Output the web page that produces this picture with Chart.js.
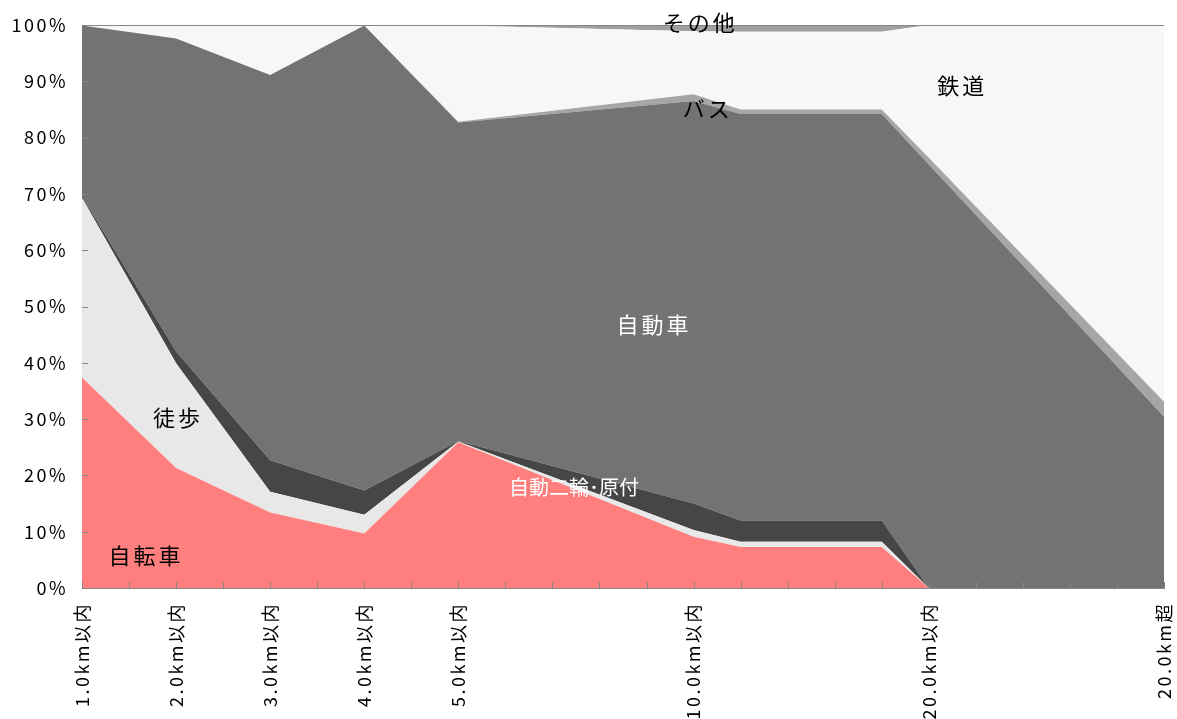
<!DOCTYPE html>
<html>
<head>
<meta charset="utf-8">
<script src="https://cdn.jsdelivr.net/npm/chart.js@4.4.1/dist/chart.umd.min.js"></script>
<style>
  html, body { margin: 0; padding: 0; background: #fff; }
</style>
</head>
<body>
<canvas id="mycanvas" width="1177" height="719"></canvas>
<script>
// distance positions (category index on the axis) where the values are given
var xPos = [0, 2, 4, 6, 8, 13, 14, 17, 18, 23];
var tickLabels = ['1.0km以内', '', '2.0km以内', '', '3.0km以内', '', '4.0km以内', '', '5.0km以内',
  '', '', '', '', '10.0km以内', '', '', '', '', '20.0km以内', '', '', '', '', '20.0km超'];

// shares in % (bottom to top)
var jitensha = [37.4, 21.3, 13.4, 9.7, 25.9, 9.1, 7.3, 7.3, 0, 0];
var toho     = [31.9, 18.6, 3.7, 3.3, 0.1, 1.2, 0.9, 0.9, 0, 0];
var nirin    = [0.3, 2.1, 5.6, 4.3, 0.1, 4.7, 3.8, 3.8, 0, 0];
var jidosha  = [30.3, 55.6, 68.4, 82.6, 56.6, 71.5, 72.2, 72.2, 75.2, 30.4];
var bus      = [0, 0, 0, 0, 0.1, 1.2, 0.8, 0.8, 1.2, 2.7];
var tetsudo  = [0.1, 2.4, 8.9, 0.1, 17.1, 11.2, 13.8, 13.8, 23.6, 66.9];
var sonota   = [0, 0, 0, 0, 0.1, 1.1, 1.2, 1.2, 0, 0];

var yTicks = [0, 10, 20, 30, 40, 50, 60, 70, 80, 90, 100];

function pts(arr) {
  return arr.map(function(v, i) { return { x: xPos[i], y: v }; });
}

function area(label, arr, color, fill) {
  return {
    label: label,
    data: pts(arr),
    backgroundColor: color,
    borderColor: color,
    borderWidth: 0,
    pointRadius: 0,
    pointHoverRadius: 0,
    tension: 0,
    fill: fill
  };
}

// where the series names are written (axis units)
var nameTags = [
  { text: '自転車', x: 1.36, y: 5.7, color: '#000', size: 22, sp: '3px' },
  { text: '徒歩', x: 2.04, y: 30.2, color: '#000', size: 22, sp: '3px' },
  { text: '自動二輪･原付', x: 10.46, y: 17.8, color: '#fff', size: 20, sp: '0px' },
  { text: '自動車', x: 12.16, y: 46.7, color: '#fff', size: 22, sp: '3px' },
  { text: 'バス', x: 13.3, y: 85.2, color: '#000', size: 22, sp: '3px' },
  { text: '鉄道', x: 18.71, y: 89.2, color: '#000', size: 22, sp: '3px' },
  { text: 'その他', x: 13.14, y: 100.5, color: '#000', size: 22, sp: '3px' }
];

var axisColor = '#868686';
var jpFont = '"Noto Sans CJK JP", "Noto Sans", sans-serif';
var tickSpacing = '2.5px';

var spacing = {
  id: 'spacing',
  beforeUpdate: function(chart) { chart.ctx.letterSpacing = tickSpacing; },
  beforeDraw: function(chart) { chart.ctx.letterSpacing = tickSpacing; }
};

var overlay = {
  id: 'overlay',
  afterDatasetsDraw: function(chart) {
    var ctx = chart.ctx;
    var xs = chart.scales.x, ys = chart.scales.y, ca = chart.chartArea;
    ctx.save();
    ctx.strokeStyle = axisColor;
    ctx.lineWidth = 1;
    ctx.beginPath();
    var top = Math.round(ys.getPixelForValue(100)) + 0.5;
    ctx.moveTo(ca.left, top);
    ctx.lineTo(ca.right, top);
    for (var i = 0; i < tickLabels.length; i++) {
      var px = Math.round(xs.getPixelForValue(i)) + 0.5;
      ctx.moveTo(px, ca.bottom);
      ctx.lineTo(px, ca.bottom - 6);
    }
    for (var k = 0; k < yTicks.length; k++) {
      var py = Math.round(ys.getPixelForValue(yTicks[k])) + 0.5;
      ctx.moveTo(ca.left, py);
      ctx.lineTo(ca.left + 6, py);
    }
    ctx.stroke();

    ctx.textAlign = 'center';
    ctx.textBaseline = 'middle';
    nameTags.forEach(function(t) {
      ctx.font = t.size + 'px ' + jpFont;
      ctx.letterSpacing = t.sp;
      ctx.fillStyle = t.color;
      ctx.fillText(t.text, xs.getPixelForValue(t.x), ys.getPixelForValue(t.y));
    });
    ctx.restore();
  }
};

var ctx = document.getElementById('mycanvas');
var chart = new Chart(ctx, {
  type: 'line',
  data: {
    datasets: [
      area('自転車', jitensha, '#FF7F7F', 'origin'),
      area('徒歩', toho, '#E8E8E8', '-1'),
      area('自動二輪・原付', nirin, '#464646', '-1'),
      area('自動車', jidosha, '#737373', '-1'),
      area('バス', bus, '#A6A6A6', '-1'),
      area('鉄道', tetsudo, '#F7F7F7', '-1'),
      area('その他', sonota, '#A0A0A0', '-1')
    ]
  },
  options: {
    responsive: false,
    animation: false,
    layout: { padding: { top: 25, right: 13, left: 0, bottom: 0 } },
    plugins: {
      legend: { display: false },
      tooltip: { enabled: false }
    },
    scales: {
      x: {
        type: 'linear',
        min: 0,
        max: 23,
        grid: { display: false },
        border: { color: axisColor },
        afterBuildTicks: function(scale) {
          scale.ticks = tickLabels.map(function(_, i) { return { value: i }; });
        },
        afterFit: function(scale) {
          scale.height = 131;
          scale.paddingLeft = 0;
          scale.paddingRight = 0;
        },
        ticks: {
          autoSkip: false,
          maxRotation: 90,
          minRotation: 90,
          padding: 6,
          color: '#000',
          font: { size: 18, family: jpFont },
          callback: function(v) { return tickLabels[v] || ''; }
        }
      },
      y: {
        stacked: true,
        min: 0,
        max: 100,
        grid: { display: false },
        border: { color: axisColor },
        afterBuildTicks: function(scale) {
          scale.ticks = yTicks.map(function(v) { return { value: v }; });
        },
        afterFit: function(scale) {
          scale.width = 82;
          scale.paddingTop = 0;
          scale.paddingBottom = 0;
        },
        ticks: {
          padding: 6,
          color: '#000',
          font: { size: 18, family: jpFont },
          callback: function(v) { return v + '%'; }
        }
      }
    }
  },
  plugins: [spacing, overlay]
});
</script>
</body>
</html>
